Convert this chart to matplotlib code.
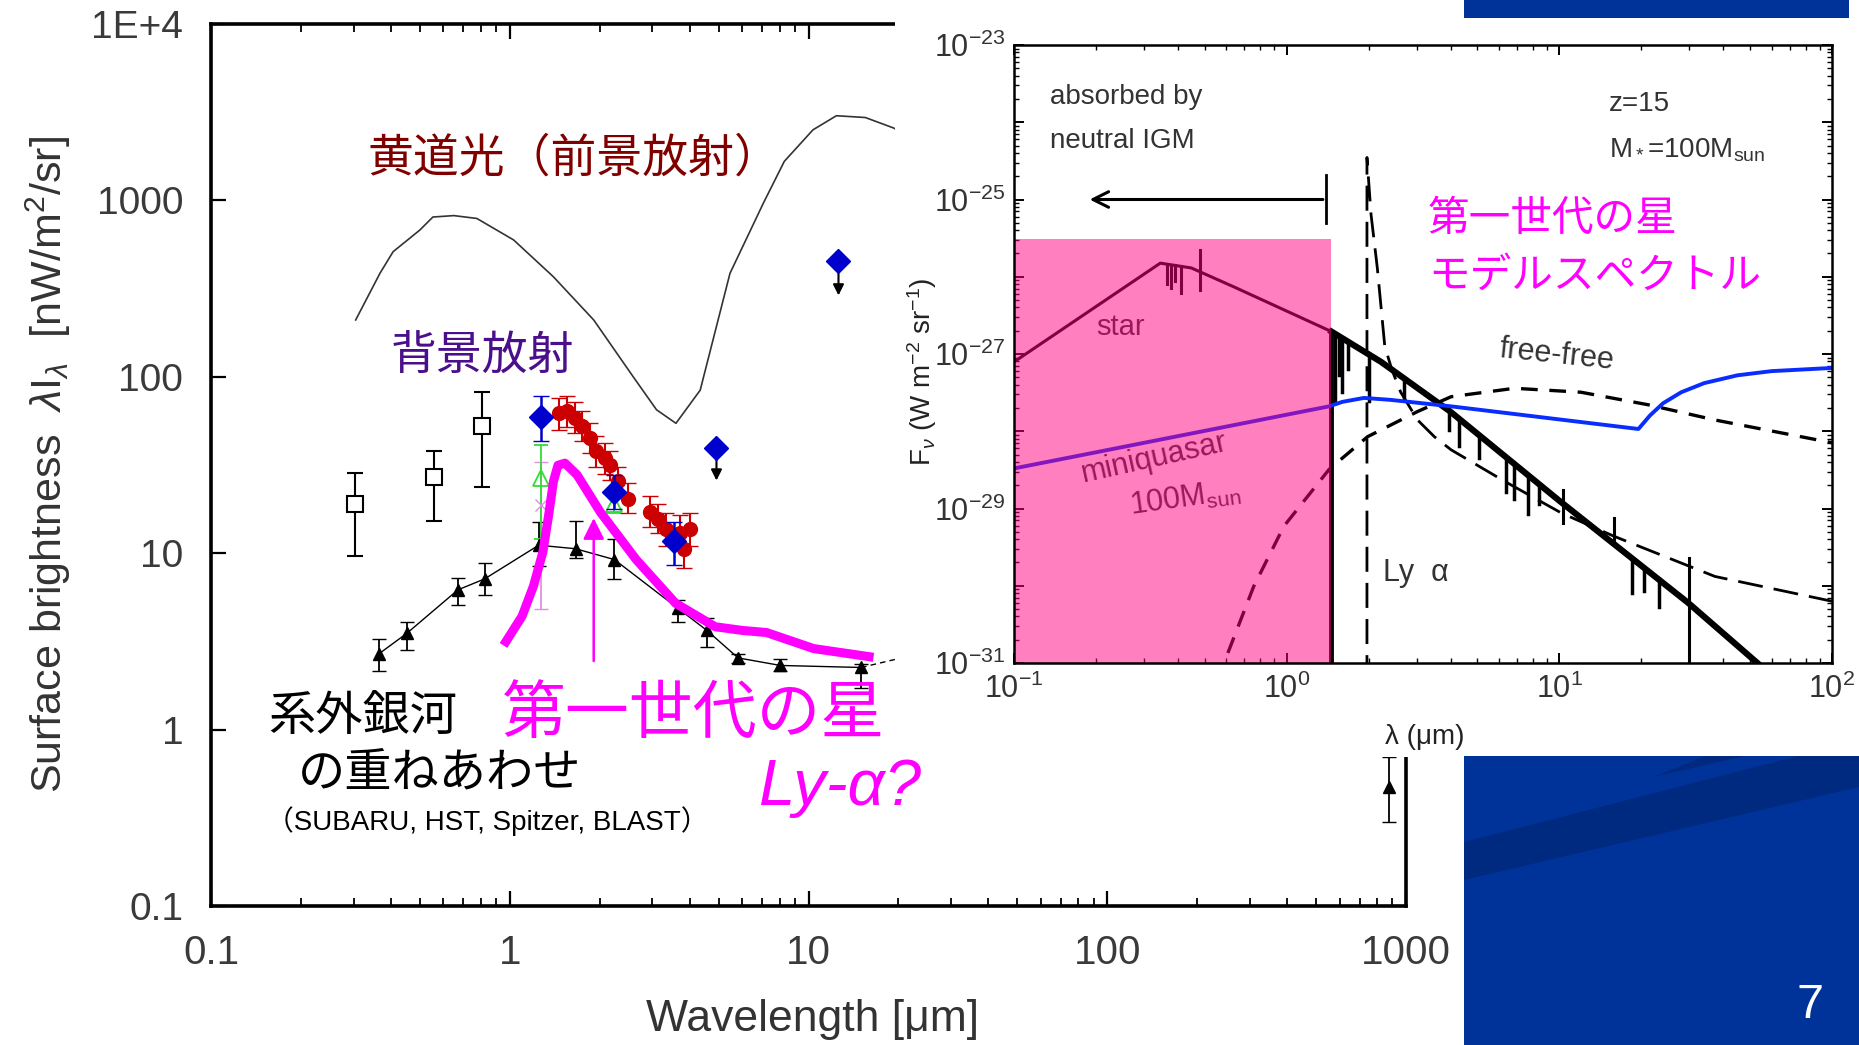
import matplotlib
matplotlib.use('Agg')
import matplotlib.pyplot as plt
import numpy as np
from matplotlib.patches import Rectangle, Polygon
from matplotlib.ticker import NullLocator, LogLocator, NullFormatter
from matplotlib import font_manager

plt.rcParams['font.family'] = ['Liberation Sans', 'DejaVu Sans']
plt.rcParams['mathtext.fontset'] = 'custom'
plt.rcParams['mathtext.rm'] = 'Liberation Sans'
plt.rcParams['mathtext.it'] = 'Liberation Sans:italic'
plt.rcParams['mathtext.sf'] = 'Liberation Sans'
JP = ['Noto Sans CJK JP', 'DejaVu Sans']
LAT_JP = ['Liberation Sans', 'Noto Sans CJK JP']
installed = {f.name for f in font_manager.fontManager.ttflist}
NARROW = ['Liberation Sans Narrow'] if 'Liberation Sans Narrow' in installed else ['Liberation Sans']

# ---------------- left panel data: background light (nW/m2/sr vs um) ----------------
zodi_x = [0.305, 0.368, 0.407, 0.50, 0.553, 0.65, 0.776, 1.03, 1.40, 1.91, 2.59, 3.1, 3.6,
          4.34, 5.46, 7.06, 8.3, 10.35, 12.4, 15.5, 19.3, 25]
zodi_y = [210, 387, 512, 679, 805, 820, 790, 597, 369, 210, 100, 65, 54.5,
          84, 386, 964, 1665, 2512, 3020, 2950, 2570, 2000]

# integrated galaxy counts (triangles)
gal_x = [0.365, 0.452, 0.671, 0.824, 1.25, 1.66, 2.24, 3.65, 4.56, 5.81, 8.05, 15.0]
gal_y = [2.69, 3.51, 6.2, 7.15, 11.1, 10.6, 9.2, 4.88, 3.66, 2.55, 2.31, 2.25]
gal_lo = [2.16, 2.81, 5.1, 5.8, 8.5, 9.4, 7.1, 4.09, 2.94, 2.4, 2.16, 1.73]
gal_hi = [3.28, 4.09, 7.2, 8.8, 15.0, 15.3, 12.0, 5.45, 4.27, 2.7, 2.52, 2.36]
gal_tail_x = [15.0, 19.5]
gal_tail_y = [2.25, 2.5]
submm_x = [877]
submm_y = [0.47]
submm_lo = [0.30]
submm_hi = [0.70]

# optical EBL (open squares)
sq_x = [0.304, 0.556, 0.81]
sq_y = [19.1, 26.9, 52.7]
sq_lo = [9.7, 15.3, 23.8]
sq_hi = [28.4, 38.2, 81.8]

# blue diamonds
bd_x = [1.27, 2.24, 3.54]
bd_y = [58.8, 22.3, 11.8]
bd_lo = [43, 17.9, 8.6]
bd_hi = [78, 27.8, 15]
ul_x = [4.92, 12.6]
ul_y = [39.5, 451]
ul_end = [24.9, 279]

# green triangles / pink crosses
gt_x = [1.27, 2.24]
gt_y = [26.6, 19.1]
gt_lo = [12.0, 17.0]
gt_hi = [41.3, 22.0]
px_x = [1.27]
px_y = [18.7]
px_lo = [4.8]
px_hi = [33.0]

# IRTS / red points
rc_x = [1.46, 1.55, 1.65, 1.74, 1.85, 1.95, 2.08, 2.17, 2.31, 2.49, 2.95, 3.13, 3.33, 3.71, 3.82, 4.0]
rc_y = [62, 64, 58.7, 52.7, 44.8, 37.8, 34.7, 31.7, 25.5, 20.4, 17.1, 15.7, 13.7, 13.1, 10.5, 13.7]
rc_lo = [50, 52, 48, 43, 37, 31, 28, 26, 21, 17, 14, 13, 11, 10.5, 8.2, 11]
rc_hi = [76, 78, 72, 64, 55, 46, 42, 38, 31, 25, 21, 19, 17, 16.5, 13.5, 17]

# first-star excess curve (magenta)
mg_x = [0.953, 1.1, 1.2, 1.29, 1.35, 1.40, 1.45, 1.53, 1.68, 2.01, 2.65, 3.59, 4.87, 6.0, 7.24, 10.4, 16.5]
mg_y = [3.0, 4.4, 6.5, 10.1, 16.5, 25.5, 31.5, 32.4, 27.8, 17.1, 9.2, 5.2, 3.83, 3.65, 3.55, 2.88, 2.57]
lya_arrow_x = 1.91
lya_arrow_y = (2.36, 16.4)

# ---------------- inset data: Pop III model spectrum (z=15) ----------------
star_uv_x = [0.1, 0.344, 0.447, 0.64, 1.46]
star_uv_y = [7.9e-28, 1.5e-26, 1.3e-26, 7.4e-27, 1.95e-27]
star_ir_x = [1.46, 2.22, 3.98, 10.0, 29.7, 57.5]
star_ir_y = [1.95e-27, 7.9e-28, 1.8e-28, 1.26e-29, 6.0e-31, 7.9e-32]
uv_spike_x = [0.365, 0.375, 0.39, 0.41]
uv_spike_d = [0.25, 0.3, 0.2, 0.35]
ir_spike_x = [1.5, 1.55, 1.6, 1.68, 2.0, 2.7, 3.94, 4.29, 5.08, 6.38, 6.84, 7.7, 8.44, 18.4, 20.4, 23.3]
ir_spike_d = [0.9, 0.5, 0.7, 0.35, 0.6, 0.25, 0.25, 0.35, 0.3, 0.45, 0.45, 0.5, 0.25, 0.45, 0.3, 0.35]
cross_x = [0.483, 10.35, 15.9]
cross_top = [2.2e-26, 1.74e-29, 7.6e-30]
cross_bot = [6.8e-27, 6.5e-30, 3.6e-30]
step_x = 29.8
step_top = 2.3e-30

lya_x = [1.97, 1.97, 2.04, 2.15, 2.29, 2.43, 2.62, 3.02, 3.48, 4.01, 6.31, 10.2, 15.8, 37.2, 100]
lya_y = [6e-32, 3.5e-25, 6.3e-26, 1.3e-26, 1.26e-27, 6.3e-28, 3.2e-28, 1.4e-28, 8.5e-29,
         5.75e-29, 2.24e-29, 8.7e-30, 4.4e-30, 1.32e-30, 6.3e-31]

ff_x = [0.57, 0.589, 0.757, 0.977, 1.43, 1.98, 3.02, 4.01, 6.85, 12.0, 21.2, 37.2, 100]
ff_y = [6e-32, 1.0e-31, 9.8e-31, 5.9e-30, 3.2e-29, 8.5e-29, 1.8e-28, 2.8e-28, 3.6e-28,
        3.2e-28, 2.2e-28, 1.4e-28, 7.1e-29]

mq_x = [0.1, 1.43, 1.6, 1.92, 2.4, 4.01, 19.5, 21.5, 24, 28, 34, 45, 60, 100]
mq_y = [3.3e-29, 2.1e-28, 2.4e-28, 2.7e-28, 2.55e-28, 2.1e-28, 1.07e-28, 1.6e-28, 2.3e-28,
        3.2e-28, 4.2e-28, 5.3e-28, 6.0e-28, 6.6e-28]

lyman_limit = 1.46
igm_top = 3.1e-26

left_yticks = [0.1, 1, 10, 100, 1000, 1e4]
left_ylabels = ['0.1', '1', '10', '100', '1000', '1E+4']
left_xticks = [0.1, 1, 10, 100, 1000]
left_xlabels = ['0.1', '1', '10', '100', '1000']
in_xticks = [0.1, 1, 10, 100]
in_xlabels = [r'$10^{-1}$', r'$10^{0}$', r'$10^{1}$', r'$10^{2}$']
in_yticks = [1e-31, 1e-30, 1e-29, 1e-28, 1e-27, 1e-26, 1e-25, 1e-24, 1e-23]
in_ylabels = [r'$10^{-31}$', '', r'$10^{-29}$', '', r'$10^{-27}$', '', r'$10^{-25}$', '', r'$10^{-23}$']

W, H = 1859, 1045
fig = plt.figure(figsize=(W / 100, H / 100), dpi=100)
fig.patch.set_facecolor('white')


def fx(px):
    return px / W


def fy(py):
    return 1 - py / H


# ---------------- left panel ----------------
ax = fig.add_axes([fx(211), fy(906), 1195 / W, 882 / H], zorder=0)
ax.set_xscale('log')
ax.set_yscale('log')
ax.set_xlim(0.1, 1000)
ax.set_ylim(0.1, 1e4)
ax.set_xticks(left_xticks)
ax.set_xticklabels(left_xlabels, fontsize=29)
ax.set_yticks(left_yticks)
ax.set_yticklabels(left_ylabels, family=NARROW, fontsize=28)
ax.xaxis.set_minor_locator(LogLocator(base=10, subs=np.arange(2, 10), numticks=20))
ax.xaxis.set_minor_formatter(NullFormatter())
ax.yaxis.set_minor_locator(NullLocator())
ax.tick_params(which='both', direction='in', top=True, right=True,
               labelcolor='#3a3a3a', pad=20)
ax.tick_params(which='major', length=11, width=1.6)
ax.tick_params(which='minor', length=6, width=1.3)
for s in ax.spines.values():
    s.set_linewidth(2.6)

ax.plot(zodi_x, zodi_y, color='#333333', lw=1.2)

ax.errorbar(gal_x, gal_y, yerr=[np.subtract(gal_y, gal_lo), np.subtract(gal_hi, gal_y)],
            fmt='-^', color='black', ms=9, lw=1, elinewidth=1.3, capsize=5)
ax.plot(gal_tail_x, gal_tail_y, color='black', lw=1, ls=(0, (4, 3)))
ax.errorbar(submm_x, submm_y, yerr=[np.subtract(submm_y, submm_lo), np.subtract(submm_hi, submm_y)],
            fmt='^', color='black', ms=9, elinewidth=1.3, capsize=5)

ax.errorbar(sq_x, sq_y, yerr=[np.subtract(sq_y, sq_lo), np.subtract(sq_hi, sq_y)],
            fmt='s', mfc='white', mec='black', color='black', ms=11, mew=1.5,
            elinewidth=1.5, capsize=6)

ax.errorbar(px_x, px_y, yerr=[np.subtract(px_y, px_lo), np.subtract(px_hi, px_y)],
            fmt='x', color='#e090e0', ms=9, elinewidth=1.3, capsize=5)
ax.errorbar(gt_x, gt_y, yerr=[np.subtract(gt_y, gt_lo), np.subtract(gt_hi, gt_y)],
            fmt='^', mfc='none', mec='#33dd33', color='#33dd33', ms=11, mew=1.3,
            elinewidth=1.3, capsize=5)

ax.errorbar(rc_x, rc_y, yerr=[np.subtract(rc_y, rc_lo), np.subtract(rc_hi, rc_y)],
            fmt='o', color='#cc0000', ms=10, elinewidth=1.5, capsize=6)

ax.errorbar(bd_x, bd_y, yerr=[np.subtract(bd_y, bd_lo), np.subtract(bd_hi, bd_y)],
            fmt='D', color='#0000cc', ms=12, elinewidth=1.8, capsize=6, zorder=4)
for x, y0, y1 in zip(ul_x, ul_y, ul_end):
    ax.annotate('', xy=(x, y1), xytext=(x, y0),
                arrowprops=dict(arrowstyle='-|>', color='black', lw=1.5, mutation_scale=16))
ax.plot(ul_x, ul_y, 'D', color='#0000cc', ms=12, zorder=5)

ax.plot(mg_x, mg_y, color='#ff00ff', lw=6.5, solid_capstyle='butt',
        solid_joinstyle='round', zorder=6)
ax.annotate('', xy=(lya_arrow_x, lya_arrow_y[1]), xytext=(lya_arrow_x, lya_arrow_y[0]),
            arrowprops=dict(arrowstyle='-|>', color='#ff00ff', lw=1.8, mutation_scale=32),
            zorder=6)

fig.text(fx(48), fy(465), r'Surface brightness  $\lambda$I$_\lambda$  [nW/m$^2$/sr]',
         rotation=90, ha='center', va='center', fontsize=31, color='#333333')
fig.text(fx(813), fy(1020), 'Wavelength [μm]', ha='center', va='center',
         fontsize=32, color='#333333')

fig.text(fx(367), fy(158), '黄道光（前景放射）', family=JP, fontsize=33,
         color='#800000', ha='left', va='center')
fig.text(fx(391), fy(356), '背景放射', family=JP, fontsize=33,
         color='#4b0f8c', ha='left', va='center')
fig.text(fx(268), fy(717), '系外銀河', family=JP, fontsize=34, color='black',
         ha='left', va='center')
fig.text(fx(298), fy(773), 'の重ねあわせ', family=JP, fontsize=34, color='black',
         ha='left', va='center')
fig.text(fx(266), fy(821), '（SUBARU, HST, Spitzer, BLAST）', family=LAT_JP, fontsize=20,
         color='black', ha='left', va='center')
fig.text(fx(502), fy(715), '第一世代の星', family=JP, fontsize=46, color='#ff00ff',
         ha='left', va='center')
fig.text(fx(759), fy(788), 'Ly-α?', fontsize=47, style='italic', color='#ff00ff',
         ha='left', va='center')

# ---------------- white backdrop for the inset ----------------
fig.add_artist(Rectangle((fx(895), fy(757)), 1 - fx(895), 757 / H, transform=fig.transFigure,
                         facecolor='white', edgecolor='none', zorder=4))

# ---------------- inset panel ----------------
ax2 = fig.add_axes([fx(1014), fy(663), 818 / W, 618 / H], zorder=5)
ax2.set_xscale('log')
ax2.set_yscale('log')
ax2.set_xlim(0.1, 100)
ax2.set_ylim(1e-31, 1e-23)
ax2.set_xticks(in_xticks)
ax2.set_xticklabels(in_xlabels)
ax2.set_yticks(in_yticks)
ax2.set_yticklabels(in_ylabels)
ax2.xaxis.set_minor_locator(LogLocator(base=10, subs=np.arange(2, 10), numticks=20))
ax2.yaxis.set_minor_locator(LogLocator(base=10, subs=np.arange(2, 10), numticks=20))
ax2.xaxis.set_minor_formatter(NullFormatter())
ax2.yaxis.set_minor_formatter(NullFormatter())
ax2.tick_params(which='both', direction='in', top=True, right=True, labelsize=22,
                labelcolor='#333333')
ax2.tick_params(axis='y', pad=6)
ax2.tick_params(axis='x', pad=8)
ax2.tick_params(which='major', length=7, width=1.4)
ax2.tick_params(which='minor', length=3.5, width=1.0)
for s in ax2.spines.values():
    s.set_linewidth(1.8)

ax2.plot(star_uv_x, star_uv_y, color='black', lw=2.2, zorder=2)
ax2.plot(star_ir_x, star_ir_y, color='black', lw=4.5, zorder=2)
ax2.plot([lyman_limit, lyman_limit], [star_ir_y[0], 1e-32], color='black', lw=3.5, zorder=2)


def cont(x, xs, ys):
    return 10 ** np.interp(np.log10(x), np.log10(xs), np.log10(ys))


for x, d in zip(uv_spike_x, uv_spike_d):
    c = cont(x, star_uv_x, star_uv_y)
    ax2.plot([x, x], [c, c * 10 ** (-d)], color='black', lw=2.2, zorder=2)
for x, d in zip(ir_spike_x, ir_spike_d):
    c = cont(x, star_ir_x, star_ir_y)
    ax2.plot([x, x], [c, c * 10 ** (-d)], color='black', lw=2.5, zorder=2)
for x, t, b in zip(cross_x, cross_top, cross_bot):
    ax2.plot([x, x], [t, b], color='black', lw=2.2, zorder=2)
ax2.plot([step_x, step_x], [step_top, 1e-32], color='black', lw=2.2, zorder=2)

ax2.plot(lya_x, lya_y, color='black', lw=2, dashes=(9, 4), zorder=2)
ax2.plot(ff_x, ff_y, color='black', lw=2.4, dashes=(5, 3.5), zorder=2)
ax2.plot(mq_x, mq_y, color='#0a2dff', lw=2.8, zorder=2)

# IGM-absorbed region overlay
ax2.add_patch(Rectangle((0.1, 1e-31), lyman_limit - 0.1, igm_top - 1e-31,
                        facecolor='#ff0080', alpha=0.5, edgecolor='none', zorder=2.2))

ax2.annotate('', xy=(0.185, 1e-25), xytext=(1.39, 1e-25),
             arrowprops=dict(arrowstyle='->', color='black', lw=2.2, mutation_scale=28))
ax2.plot([1.39, 1.39], [2.1e-25, 5.0e-26], color='black', lw=2)

tc = '#333333'
ax2.text(0.044, 0.916, 'absorbed by', transform=ax2.transAxes, fontsize=20, color=tc,
         ha='left', va='center')
ax2.text(0.044, 0.845, 'neutral IGM', transform=ax2.transAxes, fontsize=20, color=tc,
         ha='left', va='center')
ax2.text(0.727, 0.905, 'z=15', transform=ax2.transAxes, fontsize=20, color=tc,
         ha='left', va='center')
ax2.text(0.727, 0.83, r'M$_*$=100M$_{\rm sun}$', transform=ax2.transAxes, fontsize=20,
         color=tc, ha='left', va='center')
ax2.text(0.506, 0.717, '第一世代の星', transform=ax2.transAxes, family=JP, fontsize=30,
         color='#ff00ff', ha='left', va='center')
ax2.text(0.506, 0.625, 'モデルスペクトル', transform=ax2.transAxes, family=JP, fontsize=30,
         color='#ff00ff', ha='left', va='center')
ax2.text(0.13, 0.544, 'star', transform=ax2.transAxes, fontsize=21, color=tc,
         ha='center', va='center', zorder=2.1)
ax2.text(0.172, 0.332, 'miniquasar', transform=ax2.transAxes, fontsize=22, color=tc,
         ha='center', va='center', rotation=12.5, zorder=2.1)
ax2.text(0.209, 0.266, r'100M$_{\rm sun}$', transform=ax2.transAxes, fontsize=22, color=tc,
         ha='center', va='center', rotation=8, zorder=2.1)
ax2.text(0.663, 0.498, 'free-free', transform=ax2.transAxes, fontsize=22, color=tc,
         ha='center', va='center', rotation=-6)
ax2.text(0.451, 0.146, 'Ly  α', transform=ax2.transAxes, fontsize=22, color=tc,
         ha='left', va='center')

fig.text(fx(922), fy(372), r'F$_\nu$ (W m$^{-2}$ sr$^{-1}$)', rotation=90, ha='center',
         va='center', fontsize=20, color='#222222', zorder=7)
fig.text(fx(1425), fy(737), 'λ (μm)', ha='center', va='center', fontsize=20,
         color='#222222', zorder=7)

# ---------------- slide decoration ----------------
blue = '#003399'
dark = '#002a80'
fig.add_artist(Rectangle((fx(1464), fy(18)), fx(1849) - fx(1464), 18 / H,
                         transform=fig.transFigure, facecolor=blue, edgecolor='none', zorder=6))
fig.add_artist(Rectangle((fx(1464), 0), 1 - fx(1464), fy(756), transform=fig.transFigure,
                         facecolor=blue, edgecolor='none', zorder=6))
band = [(1464, 842), (1798, 756), (1859, 756), (1859, 787), (1464, 880)]
fig.add_artist(Polygon([(fx(a), fy(b)) for a, b in band], closed=True,
                       transform=fig.transFigure, facecolor=dark, edgecolor='none', zorder=6.5))
sliver = [(1653, 777), (1705, 756), (1745, 756)]
fig.add_artist(Polygon([(fx(a), fy(b)) for a, b in sliver], closed=True,
                       transform=fig.transFigure, facecolor=dark, edgecolor='none', zorder=6.5))
fig.text(fx(1810), fy(1005), '7', color='white', fontsize=35, ha='center', va='center',
         zorder=8)

fig.savefig('out.png', dpi=100)
